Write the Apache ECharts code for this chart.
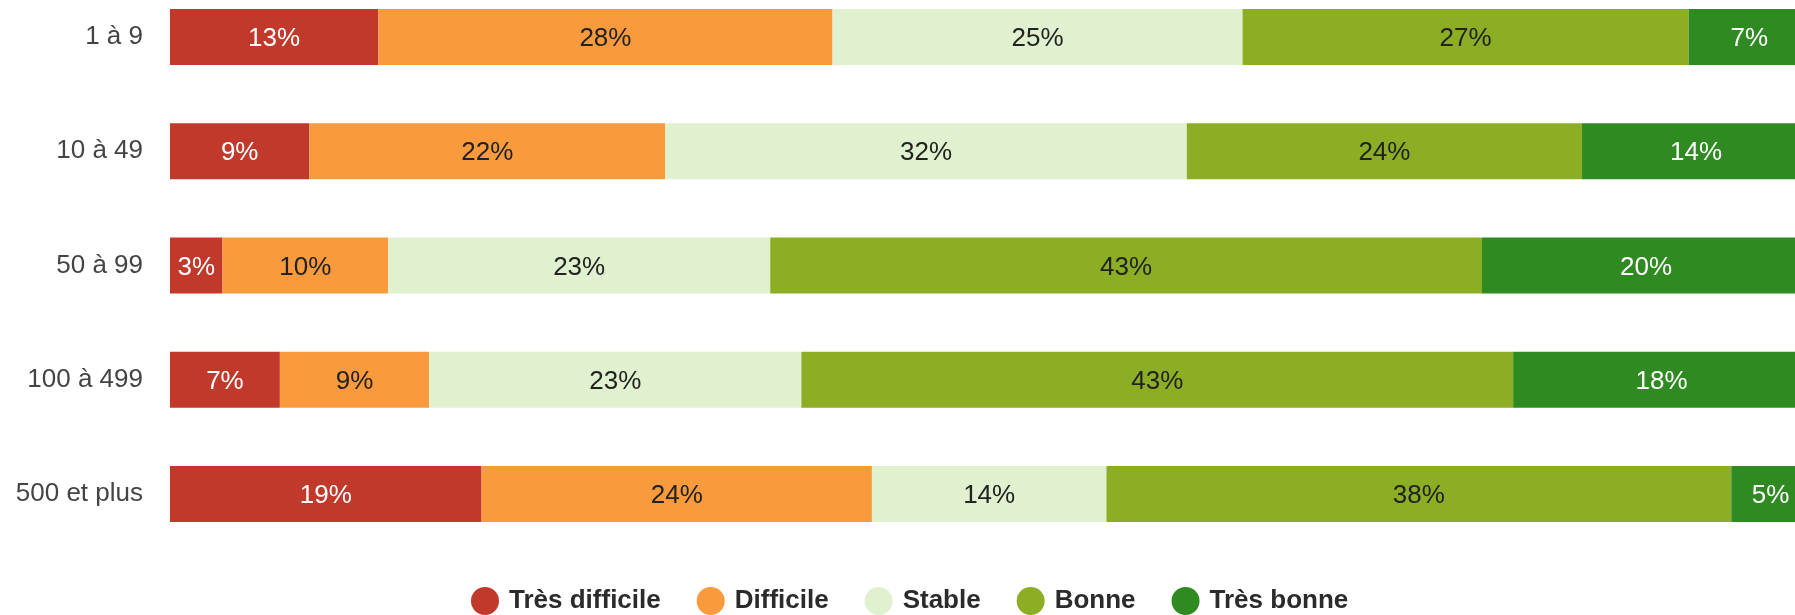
<!DOCTYPE html>
<html>
<head>
<meta charset="utf-8">
<title>Situation par taille</title>
<script src="https://cdn.jsdelivr.net/npm/echarts@6/dist/echarts.min.js"></script>
<style>
  html, body { margin: 0; padding: 0; background: #fff; }
  #chart { width: 1795px; height: 615px; }
</style>
</head>
<body>
<div id="chart"></div>
<script>
// catégories (taille) et parts par niveau, en %
const categories = ['1 à 9', '10 à 49', '50 à 99', '100 à 499', '500 et plus'];
const seriesNames = ['Très difficile', 'Difficile', 'Stable', 'Bonne', 'Très bonne'];
const tresDifficile = [12.7, 8.5, 3.2, 6.7, 19.0];
const difficile = [27.7, 21.7, 10.1, 9.1, 23.8];
const stable = [25.0, 31.8, 23.3, 22.7, 14.3];
const bonne = [27.2, 24.1, 43.4, 43.4, 38.1];
const tresBonne = [7.4, 13.9, 20.0, 18.1, 4.8];

const values = [tresDifficile, difficile, stable, bonne, tresBonne];
const colors = ['#c0392b', '#f99b3c', '#dff1cf', '#8bae24', '#2f8a22'];
const labelColors = ['#ffffff', '#222222', '#222222', '#222222', '#ffffff'];
const font = "'Liberation Sans', Arial, sans-serif";

const seriesData = seriesNames.map((name, index) => ({
  name,
  type: 'bar',
  stack: 'total',
  barWidth: 56,
  data: values[index],
  itemStyle: { color: colors[index] },
  label: {
    show: true,
    position: 'inside',
    offset: [0, 2],
    color: labelColors[index],
    fontSize: 26,
    fontFamily: font,
    formatter: (p) => `${Math.round(p.value)}%`,
  },
  emphasis: { disabled: true },
}));

const option = {
  animation: false,
  // le graphique d'origine déborde à droite et en haut : pas de recadrage
  grid: {
    left: 170,
    top: -20,
    width: 1640,
    height: 571,
    outerBoundsMode: 'none',
  },
  legend: {
    data: seriesNames,
    left: 471,
    top: 587,
    padding: 0,
    icon: 'circle',
    itemWidth: 28,
    itemHeight: 28,
    itemGap: 36,
    textStyle: {
      fontSize: 26,
      fontWeight: 'bold',
      fontFamily: font,
      color: '#2b2b2b',
      padding: [0, 0, 0, 5],
    },
  },
  xAxis: {
    type: 'value',
    min: 0,
    max: 100,
    show: false,
  },
  yAxis: {
    type: 'category',
    data: categories,
    inverse: true,
    axisLine: { show: false },
    axisTick: { show: false },
    splitLine: { show: false },
    axisLabel: {
      margin: 27,
      padding: [4, 0, 0, 0],
      fontSize: 26,
      fontFamily: font,
      color: '#444444',
    },
  },
  series: seriesData,
};

const myChart = echarts.init(document.getElementById('chart'));
myChart.setOption(option);
</script>
</body>
</html>
